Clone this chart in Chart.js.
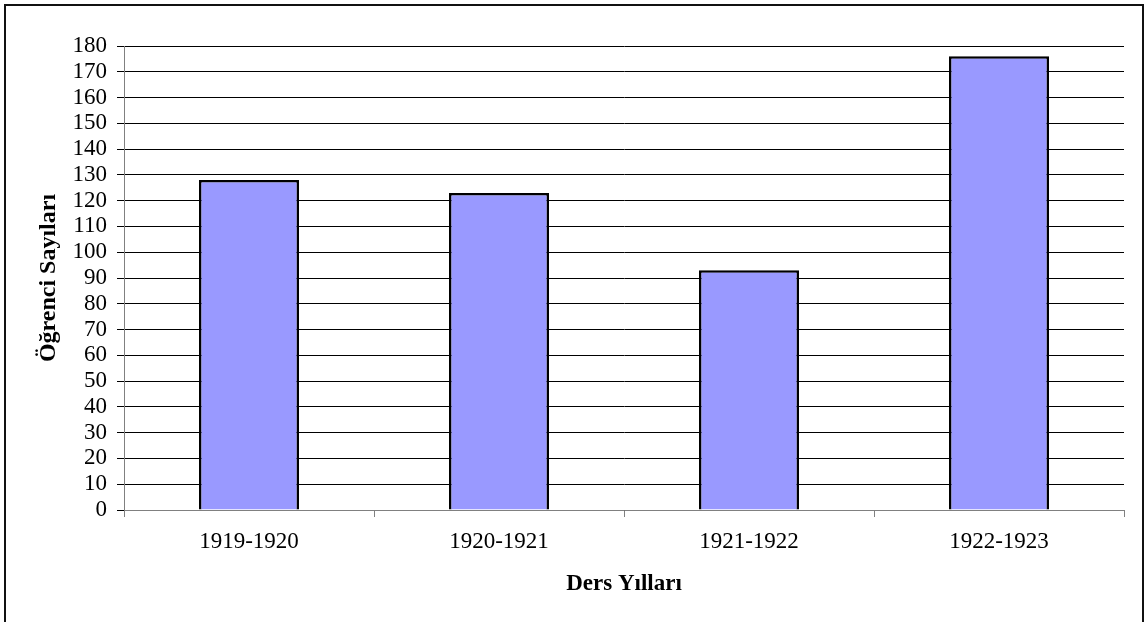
<!DOCTYPE html>
<html>
<head>
<meta charset="utf-8">
<script src="https://cdn.jsdelivr.net/npm/chart.js@4/dist/chart.umd.min.js"></script>
<style>
  body { margin: 0; background: #fff; }
  #wrap { position: relative; width: 1146px; height: 622px; overflow: hidden; }
  #frame { position: absolute; left: 4px; top: 4px; width: 1136px; height: 700px; border: 2px solid #111; }
  canvas { position: absolute; left: 0; top: 0; }
</style>
</head>
<body>
<div id="wrap">
  <div id="frame"></div>
  <canvas id="students" width="1146" height="622"></canvas>
</div>
<script>
const yearLabels = ["1919-1920", "1920-1921", "1921-1922", "1922-1923"];
const studentCounts = [128, 123, 93, 176];
const yMin = 0;
const yMax = 180;
const yStep = 10;

const serif = "'Liberation Serif', 'Times New Roman', serif";

const ctx = document.getElementById("students").getContext("2d");

new Chart(ctx, {
  type: "bar",
  data: {
    labels: yearLabels,
    datasets: [
      {
        data: studentCounts,
        backgroundColor: "#9999FF",
        borderColor: "#000",
        borderWidth: 2.5,
        categoryPercentage: 1,
        barPercentage: 0.4,
      },
    ],
  },
  options: {
    responsive: false,
    animation: false,
    layout: {
      padding: { top: 46, right: 22, bottom: 0, left: 0 },
    },
    plugins: {
      legend: { display: false },
      tooltip: { enabled: false },
    },
    scales: {
      x: {
        afterFit: (scale) => {
          scale.height = 112;
        },
        grid: {
          display: true,
          drawOnChartArea: false,
          offset: true,
          color: "#808080",
          tickLength: 7,
        },
        border: { color: "#808080", width: 1 },
        ticks: {
          color: "#000",
          padding: 11,
          font: { family: serif, size: 23 },
        },
        title: {
          display: true,
          text: "Ders Yılları",
          color: "#000",
          padding: { top: 0, bottom: 24 },
          font: { family: serif, size: 23, weight: "bold" },
        },
      },
      y: {
        min: yMin,
        max: yMax,
        afterFit: (scale) => {
          scale.width = 124;
        },
        grid: {
          color: "#000",
          tickLength: 7,
        },
        border: { color: "#808080", width: 1 },
        ticks: {
          stepSize: yStep,
          autoSkip: false,
          color: "#000",
          padding: 10,
          font: { family: serif, size: 23 },
        },
        title: {
          display: true,
          text: "Öğrenci Sayıları",
          color: "#000",
          padding: { top: 34, bottom: 0 },
          font: { family: serif, size: 24, weight: "bold" },
        },
      },
    },
  },
});
</script>
</body>
</html>
